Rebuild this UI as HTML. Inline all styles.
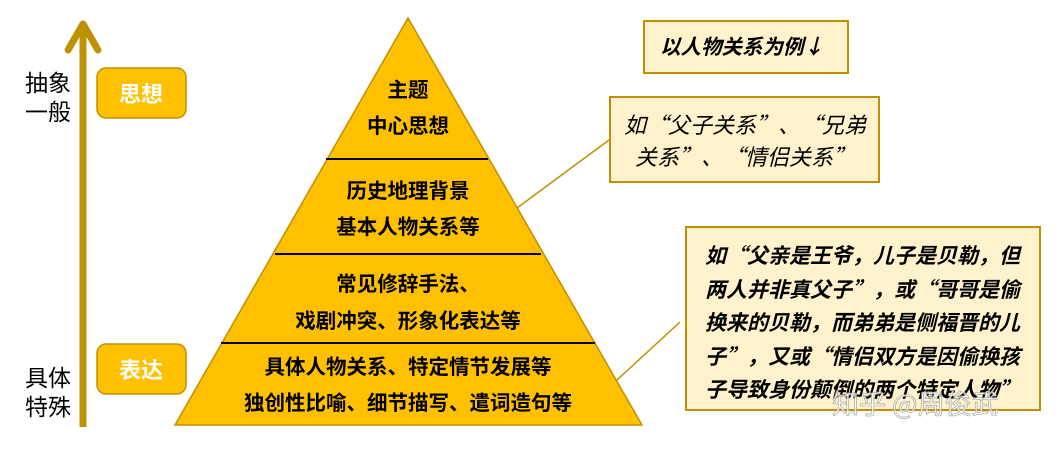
<!DOCTYPE html>
<html><head><meta charset="utf-8"><style>
html,body{margin:0;padding:0;background:#fff;}
svg text{font-family:"Noto Sans CJK SC","Liberation Sans",sans-serif;}
</style></head><body>
<svg width="1060" height="445" xmlns="http://www.w3.org/2000/svg">
<line x1="83" y1="28" x2="83" y2="427" stroke="#BF9000" stroke-width="7"/>
<polyline points="68,50 83,24 98,50" fill="none" stroke="#BF9000" stroke-width="7" stroke-linecap="round" stroke-linejoin="round"/>
<g font-size="23" text-anchor="middle" fill="#000" font-family="Noto Serif CJK SC">
<text x="48" y="91">抽象</text>
<text x="48" y="120">一般</text>
<text x="48" y="386">具体</text>
<text x="48" y="415">特殊</text>
</g>
<rect x="97" y="68" width="89" height="50" rx="9" fill="#FFC000" stroke="#BF9000" stroke-width="1.5"/>
<text x="141" y="102" font-size="22" text-anchor="middle" fill="#fff" font-weight="bold">思想</text>
<rect x="97" y="344" width="89" height="50" rx="9" fill="#FFC000" stroke="#BF9000" stroke-width="1.5"/>
<text x="141" y="378" font-size="22" text-anchor="middle" fill="#fff" font-weight="bold">表达</text>
<polygon points="408,18 175,425 642,425" fill="#FFC000" stroke="#BF9000" stroke-width="1.5"/>
<line x1="326" y1="159" x2="488" y2="159" stroke="#000" stroke-width="2"/>
<line x1="275" y1="254" x2="541" y2="254" stroke="#000" stroke-width="2"/>
<line x1="221" y1="343" x2="595" y2="343" stroke="#000" stroke-width="2"/>
<g font-size="20.5" font-weight="bold" text-anchor="middle" fill="#000">
<text x="408" y="97">主题</text>
<text x="408" y="133">中心思想</text>
<text x="408" y="198">历史地理背景</text>
<text x="408" y="234">基本人物关系等</text>
<text x="408" y="291">常见修辞手法、</text>
<text x="408" y="328">戏剧冲突、形象化表达等</text>
<text x="408" y="374">具体人物关系、特定情节发展等</text>
<text x="408" y="410">独创性比喻、细节描写、遣词造句等</text>
</g>
<line x1="517" y1="208" x2="609" y2="140" stroke="#BF9000" stroke-width="1.5"/>
<line x1="617" y1="380" x2="680" y2="322" stroke="#BF9000" stroke-width="1.5"/>
<rect x="644" y="21" width="204" height="52" fill="#FFF2CC" stroke="#BF9000" stroke-width="2"/>
<text x="742" y="54" font-size="20.5" font-style="italic" font-weight="bold" text-anchor="middle" fill="#000">以人物关系为例↓</text>
<rect x="610" y="97" width="269" height="85" fill="#FFF2CC" stroke="#BF9000" stroke-width="2"/>
<g font-size="22" font-style="italic" fill="#000" text-anchor="middle">
<text x="745" y="133">如“父子关系”、“兄弟</text>
<text x="745" y="165">关系”、“情侣关系”</text>
</g>
<rect x="686" y="227" width="354" height="183" fill="#FFF2CC" stroke="#BF9000" stroke-width="2"/>
<g font-size="21" font-style="italic" font-weight="bold" fill="#000">
<text x="705" y="263">如“父亲是王爷，儿子是贝勒，但</text>
<text x="705" y="297">两人并非真父子”，或“哥哥是偷</text>
<text x="705" y="330">换来的贝勒，而弟弟是侧福晋的儿</text>
<text x="705" y="364">子”，又或“情侣双方是因偷换孩</text>
<text x="705" y="397">子导致身份颠倒的两个特定人物”</text>
</g>
<text x="832" y="414" font-size="27" fill="#fff" fill-opacity="0.75" stroke="#999" stroke-width="0.6">知乎 @周俊武</text>
</svg>
</body></html>
